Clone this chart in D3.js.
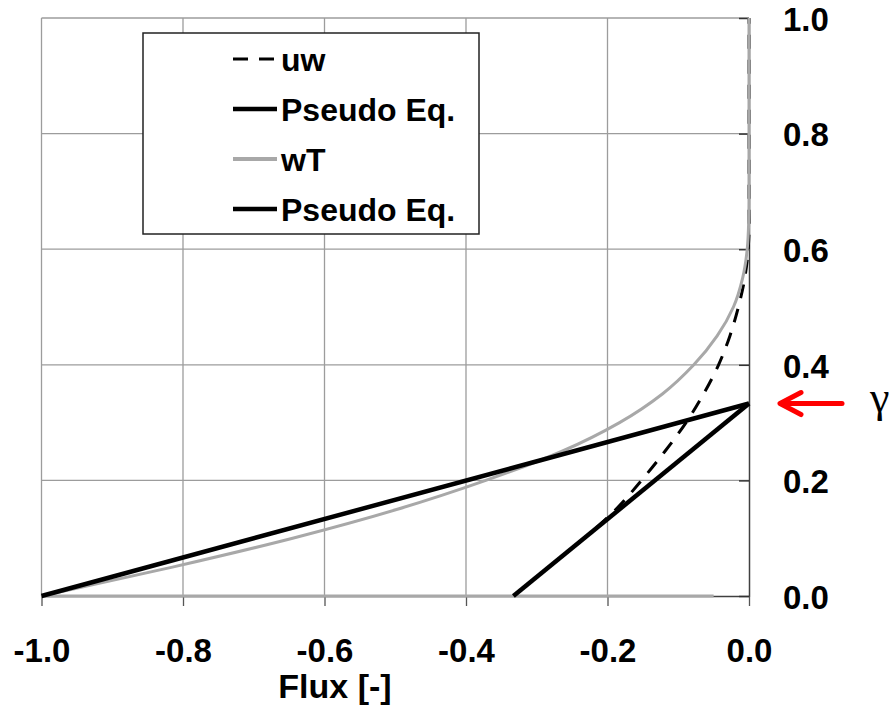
<!DOCTYPE html>
<html>
<head>
<meta charset="utf-8">
<script src="https://cdn.jsdelivr.net/npm/d3@7"></script>
<style>
  html, body { margin: 0; padding: 0; background: #fff; }
  svg { display: block; }
  text { font-family: "Liberation Sans", Arial, sans-serif; font-weight: bold; fill: #000; }
</style>
</head>
<body>
<svg id="chart" width="896" height="707"></svg>
<script>
// Axis ticks
const xTicks = [-1.0, -0.8, -0.6, -0.4, -0.2, 0.0];
const yTicks = [0.0, 0.2, 0.4, 0.6, 0.8, 1.0];

// uw profile (dashed)
const uwFlux   = [-0.27, -0.233, -0.188, -0.152, -0.119, -0.089, -0.064, -0.043, -0.027, -0.015, -0.006, -0.0012, 0.0, 0.0];
const uwHeight = [0.063, 0.10, 0.15, 0.20, 0.25, 0.30, 0.35, 0.40, 0.45, 0.50, 0.55, 0.60, 0.633, 1.0];

// wT profile (grey)
const wTFlux   = [-1.0, -0.815, -0.645, -0.497, -0.372, -0.265, -0.183, -0.122, -0.078, -0.045, -0.022, -0.009, -0.0025, -0.0004, 0.0, 0.0];
const wTHeight = [0.0, 0.05, 0.10, 0.15, 0.20, 0.25, 0.30, 0.35, 0.40, 0.45, 0.50, 0.55, 0.60, 0.65, 0.684, 1.0];
// wT values along the bottom boundary
const wTBaseFlux   = [-1.0, -0.05];
const wTBaseHeight = [0.0, 0.0];

// Pseudo-equilibrium lines
const gamma = 0.333;
const pseudo1Flux   = [-1.0, 0.0];
const pseudo1Height = [0.0, gamma];
const pseudo2Flux   = [-gamma, 0.0];
const pseudo2Height = [0.0, gamma];

const legendLabels = ["uw", "Pseudo Eq.", "wT", "Pseudo Eq."];

const svg = d3.select("#chart");
const x = d3.scaleLinear().domain([-1, 0]).range([41.5, 749]);
const y = d3.scaleLinear().domain([0, 1]).range([596, 18]);

const zip = (a, b) => a.map((v, i) => [v, b[i]]);

// Grid
const grid = svg.append("g").attr("stroke", "#9c9c9c").attr("stroke-width", 1.3);
grid.selectAll("line.v").data(xTicks.filter(d => d < 0)).join("line")
  .attr("x1", d => x(d)).attr("x2", d => x(d))
  .attr("y1", y(1)).attr("y2", y(0));
grid.selectAll("line.h").data(yTicks.filter(d => d > 0)).join("line")
  .attr("x1", x(-1)).attr("x2", x(0))
  .attr("y1", d => y(d)).attr("y2", d => y(d));

// Bottom axis
const fmt = d => d.toFixed(1);
const xAxis = svg.append("g")
  .attr("transform", `translate(0,${y(0)})`)
  .call(d3.axisBottom(x).tickValues(xTicks).tickFormat(fmt).tickSizeInner(10).tickSizeOuter(0).tickPadding(32.6));
xAxis.select(".domain").attr("stroke", "#404040").attr("stroke-width", 1.5);
xAxis.selectAll(".tick line").attr("stroke", "#555").attr("stroke-width", 1.3);
xAxis.selectAll(".tick text").style("font-size", "33px");

// Right axis with inward ticks
const yAxis = svg.append("g")
  .attr("transform", `translate(${x(0)},0)`)
  .call(d3.axisRight(y).tickValues(yTicks).tickFormat(fmt).tickSizeInner(-10).tickSizeOuter(0).tickPadding(34));
yAxis.select(".domain").attr("stroke", "#404040").attr("stroke-width", 1.5);
yAxis.selectAll(".tick line").attr("stroke", "#333").attr("stroke-width", 1.5);
yAxis.selectAll(".tick text").style("font-size", "33px").attr("dy", "0.37em");

// Axis title
svg.append("text").attr("x", 335).attr("y", 698).attr("text-anchor", "middle")
  .style("font-size", "34px").text("Flux [-]");

// Series
const smooth = d3.line().x(d => x(d[0])).y(d => y(d[1])).curve(d3.curveMonotoneY);
const straight = d3.line().x(d => x(d[0])).y(d => y(d[1]));

svg.append("path").attr("d", smooth(zip(uwFlux, uwHeight)))
  .attr("fill", "none").attr("stroke", "#000").attr("stroke-width", 3)
  .attr("stroke-dasharray", "14,11");
svg.append("path").attr("d", straight(zip(wTBaseFlux, wTBaseHeight)))
  .attr("fill", "none").attr("stroke", "#a8a8a8").attr("stroke-width", 3);
svg.append("path").attr("d", smooth(zip(wTFlux, wTHeight)))
  .attr("fill", "none").attr("stroke", "#a8a8a8").attr("stroke-width", 3);
svg.append("path").attr("d", straight(zip(pseudo1Flux, pseudo1Height)))
  .attr("fill", "none").attr("stroke", "#000").attr("stroke-width", 4.5);
svg.append("path").attr("d", straight(zip(pseudo2Flux, pseudo2Height)))
  .attr("fill", "none").attr("stroke", "#000").attr("stroke-width", 4.5);

// Legend
const legend = svg.append("g");
legend.append("rect").attr("x", 143).attr("y", 33).attr("width", 336).attr("height", 201)
  .attr("fill", "#fff").attr("stroke", "#222").attr("stroke-width", 1.5);
const legendStyles = [
  { stroke: "#000", width: 3, dash: "15,11" },
  { stroke: "#000", width: 4.5, dash: null },
  { stroke: "#a8a8a8", width: 4, dash: null },
  { stroke: "#000", width: 4.5, dash: null }
];
legendLabels.forEach((label, i) => {
  const cy = 59 + i * 50;
  const s = legendStyles[i];
  const ln = legend.append("line").attr("x1", 233).attr("x2", 277).attr("y1", cy).attr("y2", cy)
    .attr("stroke", s.stroke).attr("stroke-width", s.width);
  if (s.dash) ln.attr("stroke-dasharray", s.dash);
  legend.append("text").attr("x", 281).attr("y", cy).attr("dy", "0.36em")
    .style("font-size", "32px").text(label);
});

// Gamma marker
const gy = y(gamma);
const arrow = svg.append("g").attr("stroke", "#ff0000").attr("stroke-width", 5).attr("fill", "none")
  .attr("stroke-linecap", "round").attr("stroke-linejoin", "round");
arrow.append("line").attr("x1", 842).attr("x2", 781).attr("y1", gy).attr("y2", gy);
arrow.append("polyline").attr("points", `${801},${gy - 11} ${780},${gy} ${801},${gy + 11}`);
svg.append("text").attr("x", 870).attr("y", gy + 8)
  .style("font-family", "'Liberation Serif', 'DejaVu Serif', serif").style("font-weight", "normal")
  .style("font-size", "44px").text("γ");
</script>
</body>
</html>
